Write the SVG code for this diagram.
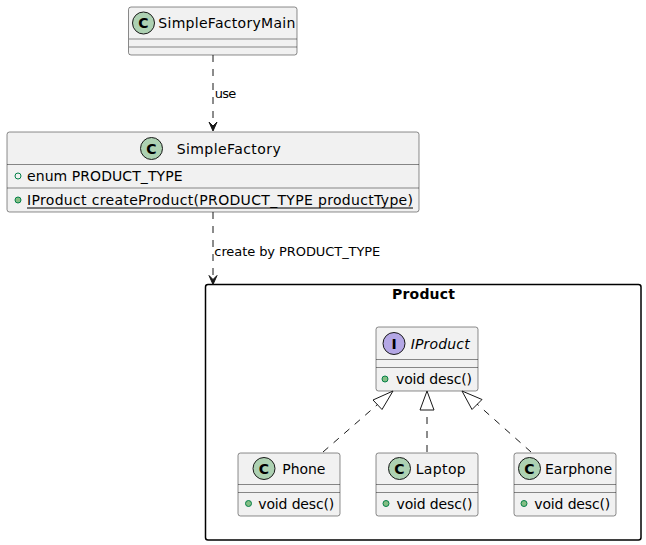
<svg xmlns="http://www.w3.org/2000/svg" width="646" height="545" viewBox="0 0 646 545">
<style>
text{font-family:"DejaVu Sans","Liberation Sans",sans-serif;fill:#000}
.box{fill:#F1F1F1;stroke:#181818;stroke-width:0.5}
.sep{stroke:#181818;stroke-width:0.5}
.cc{fill:#ADD1B2;stroke:#181818;stroke-width:1}
.ci{fill:#B4A7E5;stroke:#181818;stroke-width:1}
.letter{font-size:14px;font-weight:bold;text-anchor:middle}
.name{font-size:14px}
.mem{font-size:14px}
.lbl{font-size:13px}
.pub{fill:#84BE84;stroke:#038048;stroke-width:1}
.pubf{fill:none;stroke:#038048;stroke-width:1}
.dash{fill:none;stroke:#181818;stroke-width:1;stroke-dasharray:7,7}
.ah{fill:#181818;stroke:#181818;stroke-width:1}
.tri{fill:none;stroke:#181818;stroke-width:1}
</style>
<g id="pkg-Product">
<rect x="205.5" y="284.5" width="435.5" height="255.5" fill="none" stroke="#000" stroke-width="1.5" rx="2.5"/>
<text x="392" y="299" style="font-size:14px;font-weight:bold" textLength="63" lengthAdjust="spacing">Product</text>
</g>
<g id="SimpleFactoryMain">
<rect class="box" x="128.5" y="7" width="168.5" height="48" rx="2.5"/>
<circle class="cc" cx="143.5" cy="23" r="11"/>
<text class="letter" x="143.5" y="28">C</text>
<text class="name" x="158.3" y="28" textLength="137" lengthAdjust="spacing">SimpleFactoryMain</text>
<line class="sep" x1="129" y1="39" x2="297" y2="39"/>
<line class="sep" x1="129" y1="47" x2="297" y2="47"/>
</g>
<g id="SimpleFactory">
<rect class="box" x="7" y="132" width="412" height="80" rx="2.5"/>
<circle class="cc" cx="151.5" cy="148.5" r="11"/>
<text class="letter" x="151.5" y="153.5">C</text>
<text class="name" x="176.7" y="153.5" textLength="104" lengthAdjust="spacing">SimpleFactory</text>
<line class="sep" x1="7" y1="164.5" x2="419" y2="164.5"/>
<circle class="pubf" cx="18" cy="176" r="3"/>
<text class="mem" x="27" y="181" textLength="155.5" lengthAdjust="spacing">enum PRODUCT_TYPE</text>
<line class="sep" x1="7" y1="188" x2="419" y2="188"/>
<circle class="pub" cx="18" cy="200" r="3"/>
<text class="mem" x="27" y="205" textLength="386" lengthAdjust="spacing">IProduct createProduct(PRODUCT_TYPE productType)</text>
<line x1="27" y1="208" x2="413" y2="208" stroke="#000" stroke-width="1"/>
</g>
<g id="IProduct">
<rect class="box" x="376" y="327" width="102" height="64" rx="2.5"/>
<circle class="ci" cx="394" cy="343.5" r="11"/>
<text class="letter" x="394" y="348.5">I</text>
<text class="name" x="410.7" y="348.5" font-style="italic" textLength="59" lengthAdjust="spacing">IProduct</text>
<line class="sep" x1="376" y1="359.5" x2="478" y2="359.5"/>
<line class="sep" x1="376" y1="367.5" x2="478" y2="367.5"/>
<circle class="pub" cx="385" cy="379" r="3"/>
<text class="mem" x="396" y="384" textLength="76" lengthAdjust="spacing">void desc()</text>
</g>
<g id="Phone">
<rect class="box" x="238" y="453" width="102" height="63" rx="2.5"/>
<circle class="cc" cx="264" cy="468.5" r="11"/>
<text class="letter" x="264" y="473.5">C</text>
<text class="name" x="282.3" y="473.5" textLength="43" lengthAdjust="spacing">Phone</text>
<line class="sep" x1="238" y1="484.5" x2="340" y2="484.5"/>
<line class="sep" x1="238" y1="492.5" x2="340" y2="492.5"/>
<circle class="pub" cx="248.5" cy="503.5" r="3"/>
<text class="mem" x="258.3" y="508.5" textLength="76" lengthAdjust="spacing">void desc()</text>
</g>
<g id="Laptop">
<rect class="box" x="376" y="453" width="102" height="63" rx="2.5"/>
<circle class="cc" cx="399.5" cy="468.5" r="11"/>
<text class="letter" x="399.5" y="473.5">C</text>
<text class="name" x="415.7" y="473.5" textLength="50" lengthAdjust="spacing">Laptop</text>
<line class="sep" x1="376" y1="484.5" x2="478" y2="484.5"/>
<line class="sep" x1="376" y1="492.5" x2="478" y2="492.5"/>
<circle class="pub" cx="386" cy="503.5" r="3"/>
<text class="mem" x="396.5" y="508.5" textLength="76" lengthAdjust="spacing">void desc()</text>
</g>
<g id="Earphone">
<rect class="box" x="514" y="453" width="102" height="63" rx="2.5"/>
<circle class="cc" cx="529.5" cy="468.5" r="11"/>
<text class="letter" x="529.5" y="473.5">C</text>
<text class="name" x="545" y="473.5" textLength="67" lengthAdjust="spacing">Earphone</text>
<line class="sep" x1="514" y1="484.5" x2="616" y2="484.5"/>
<line class="sep" x1="514" y1="492.5" x2="616" y2="492.5"/>
<circle class="pub" cx="524" cy="503.5" r="3"/>
<text class="mem" x="534.3" y="508.5" textLength="76" lengthAdjust="spacing">void desc()</text>
</g>
<g id="connectors">
<line class="dash" x1="213" y1="55" x2="213" y2="130"/>
<polygon class="ah" points="213,131,217,122,213,126,209,122"/>
<text class="lbl" x="214.7" y="98" textLength="21.5" lengthAdjust="spacing">use</text>
<line class="dash" x1="213" y1="212" x2="213" y2="283"/>
<polygon class="ah" points="213,284.5,217,275.5,213,279.5,209,275.5"/>
<text class="lbl" x="214.3" y="256" textLength="166" lengthAdjust="spacing">create by PRODUCT_TYPE</text>
<line class="dash" x1="323" y1="452" x2="377.5" y2="404.5"/>
<polygon class="tri" points="393,391,373,400,382,409.5"/>
<line class="dash" x1="427" y1="452" x2="427" y2="410"/>
<polygon class="tri" points="427,391,420,410,434,410"/>
<line class="dash" x1="531" y1="452" x2="477" y2="404"/>
<polygon class="tri" points="462,391,482,399.5,472,409.5"/>
</g>
</svg>
